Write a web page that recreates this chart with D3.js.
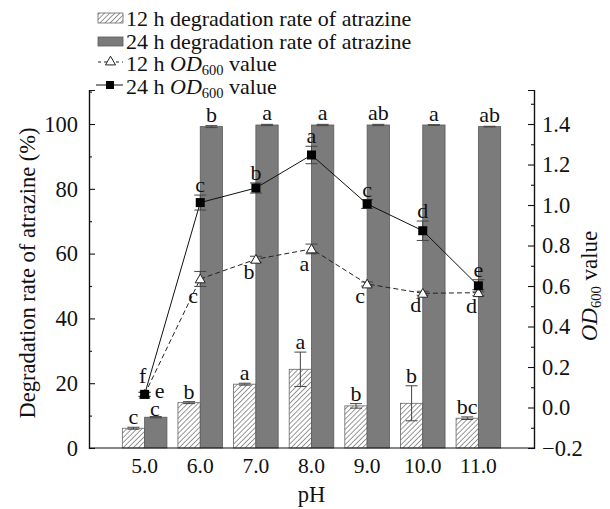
<!DOCTYPE html>
<html>
<head>
  <meta charset="utf-8">
  <script src="https://cdn.jsdelivr.net/npm/d3@7"></script>
  <style>
    body { margin: 0; background: #fff; }
  </style>
</head>
<body>
  <script>
    // Data
    const phValues = [5, 6, 7, 8, 9, 10, 11];
    const tickLabels = ["5.0", "6.0", "7.0", "8.0", "9.0", "10.0", "11.0"];
    const rate12 = [6.1, 14.0, 19.7, 24.3, 13.0, 13.8, 9.2];
    const rate12Err = [0.3, 0.3, 0.3, 5.3, 0.7, 5.4, 0.4];
    const rate24 = [9.5, 99.2, 99.7, 99.7, 99.7, 99.7, 99.2];
    const rate24Err = [0.2, 0.3, 0.2, 0.2, 0.2, 0.1, 0.1];
    const od12 = [0.065, 0.635, 0.732, 0.783, 0.61, 0.564, 0.567];
    const od12Err = [0.01, 0.037, 0.015, 0.024, 0.01, 0.01, 0.015];
    const od24 = [0.065, 1.012, 1.084, 1.247, 1.005, 0.873, 0.601];
    const od24Err = [0.01, 0.037, 0.025, 0.043, 0.022, 0.048, 0.03];
    const letters12 = ["c", "b", "a", "a", "b", "b", "bc"];
    const letters24 = ["c", "b", "a", "a", "ab", "a", "ab"];
    const lettersOd24 = ["f", "c", "b", "a", "c", "d", "e"];
    const lettersOd12 = ["e", "c", "b", "a", "c", "d", "d"];

    const W = 610, H = 509;
    const mLeft = 89, mRight = 534, mTop = 90, mBottom = 448;
    const FONT = "'Liberation Serif', 'Times New Roman', Times, 'DejaVu Serif', serif";

    const svg = d3.select("body").append("svg")
      .attr("width", W).attr("height", H)
      .style("font-family", FONT);

    const defs = svg.append("defs");
    const pat = defs.append("pattern")
      .attr("id", "hatch")
      .attr("patternUnits", "userSpaceOnUse")
      .attr("width", 3.6).attr("height", 3.6)
      .attr("patternTransform", "rotate(45)");
    pat.append("rect").attr("width", 3.6).attr("height", 3.6).attr("fill", "#fff");
    pat.append("line").attr("x1", 0).attr("y1", 0).attr("x2", 0).attr("y2", 3.6)
      .attr("stroke", "#444").attr("stroke-width", 1.1);

    const x = d3.scaleLinear().domain([4, 12]).range([mLeft, mRight]);
    const yL = d3.scaleLinear().domain([0, 110.5]).range([mBottom, mTop]);
    const yR = d3.scaleLinear().domain([-0.2, 1.568]).range([mBottom, mTop]);
    const barW = 22.3;

    // bars
    const g = svg.append("g");
    g.selectAll("rect.b12").data(phValues).enter().append("rect")
      .attr("x", d => x(d) - barW)
      .attr("y", (d, i) => yL(rate12[i]))
      .attr("width", barW)
      .attr("height", (d, i) => mBottom - yL(rate12[i]))
      .attr("fill", "url(#hatch)")
      .attr("stroke", "#666").attr("stroke-width", 0.8);

    g.selectAll("rect.b24").data(phValues).enter().append("rect")
      .attr("x", d => x(d))
      .attr("y", (d, i) => yL(rate24[i]))
      .attr("width", barW)
      .attr("height", (d, i) => mBottom - yL(rate24[i]))
      .attr("fill", "#7b7b7b")
      .attr("stroke", "#5a5a5a").attr("stroke-width", 0.8);

    // error bars helper
    function errBar(cx, yTop, yBot, cap) {
      const e = svg.append("g").attr("stroke", "#444").attr("stroke-width", 1);
      e.append("line").attr("x1", cx).attr("x2", cx).attr("y1", yTop).attr("y2", yBot);
      e.append("line").attr("x1", cx - cap).attr("x2", cx + cap).attr("y1", yTop).attr("y2", yTop);
      e.append("line").attr("x1", cx - cap).attr("x2", cx + cap).attr("y1", yBot).attr("y2", yBot);
    }

    phValues.forEach((d, i) => {
      errBar(x(d) - barW / 2, yL(rate12[i] + rate12Err[i]), yL(rate12[i] - rate12Err[i]), 6);
      errBar(x(d) + barW / 2, yL(rate24[i] + rate24Err[i]), yL(rate24[i] - rate24Err[i]), 6);
    });

    // lines
    const line12 = d3.line().x(d => x(d)).y((d, i) => yR(od12[i]));
    const line24 = d3.line().x(d => x(d)).y((d, i) => yR(od24[i]));
    svg.append("path").datum(phValues).attr("d", line12)
      .attr("fill", "none").attr("stroke", "#222").attr("stroke-width", 1)
      .attr("stroke-dasharray", "5,3");
    svg.append("path").datum(phValues).attr("d", line24)
      .attr("fill", "none").attr("stroke", "#111").attr("stroke-width", 1);

    phValues.forEach((d, i) => {
      errBar(x(d), yR(od12[i] + od12Err[i]), yR(od12[i] - od12Err[i]), 6);
      errBar(x(d), yR(od24[i] + od24Err[i]), yR(od24[i] - od24Err[i]), 6);
    });

    const tri = d3.symbol().type(d3.symbolTriangle).size(44);
    svg.selectAll("path.tri").data(phValues).enter().append("path")
      .attr("d", tri)
      .attr("transform", (d, i) => `translate(${x(d)},${yR(od12[i]) + 1})`)
      .attr("fill", "#fff").attr("stroke", "#222").attr("stroke-width", 1);

    svg.selectAll("rect.sq").data(phValues).enter().append("rect")
      .attr("x", d => x(d) - 4.5)
      .attr("y", (d, i) => yR(od24[i]) - 4.5)
      .attr("width", 9).attr("height", 9)
      .attr("fill", "#000");

    // letters
    const fs = 22;
    function letter(tx, ty, s) {
      svg.append("text").attr("x", tx).attr("y", ty).attr("text-anchor", "middle")
        .attr("font-size", fs).attr("fill", "#111").text(s);
    }
    phValues.forEach((d, i) => {
      const top12 = yL(rate12[i] + rate12Err[i]);
      const top24 = yL(rate24[i] + rate24Err[i]);
      letter(x(d) - barW / 2, top12 - 3, letters12[i]);
      letter(x(d) + barW / 2 - (i === 0 ? 1 : 0), top24 - (i === 0 ? 1 : 4), letters24[i]);
      if (i === 0) {
        letter(x(d) - 2, yR(od24[i]) - 11, lettersOd24[i]);
        letter(x(d) + 15, yR(od12[i]) + 4, lettersOd12[i]);
      } else {
        letter(x(d), yR(od24[i] + od24Err[i]) - 3, lettersOd24[i]);
        letter(x(d) - 7, yR(od12[i] - od12Err[i]) + 17, lettersOd12[i]);
      }
    });

    // axes
    const axL = d3.axisLeft(yL).tickValues(d3.range(0, 101, 20)).tickSize(-6).tickPadding(11);
    const axLminor = d3.axisLeft(yL).tickValues(d3.range(10, 111, 20)).tickSize(-3).tickFormat("");
    svg.append("g").attr("transform", `translate(${mLeft},0)`).call(axL);
    svg.append("g").attr("transform", `translate(${mLeft},0)`).call(axLminor);

    const axR = d3.axisRight(yR).tickValues(d3.range(-0.2, 1.41, 0.2)).tickSize(-6).tickPadding(8)
      .tickFormat(d => Math.abs(d) < 1e-9 ? "0.0" : (d < 0 ? "\u2212" + d3.format(".1f")(-d) : d3.format(".1f")(d)));
    const axRminor = d3.axisRight(yR).tickValues(d3.range(-0.1, 1.56, 0.2)).tickSize(-3).tickFormat("");
    svg.append("g").attr("transform", `translate(${mRight},0)`).call(axR);
    svg.append("g").attr("transform", `translate(${mRight},0)`).call(axRminor);

    svg.selectAll("g").attr("font-family", null);
    svg.selectAll(".domain").attr("stroke", "#111").attr("stroke-width", 1.2);
    svg.selectAll(".tick line").attr("stroke", "#111").attr("stroke-width", 1.1);
    svg.selectAll(".tick text").attr("font-size", 22.5).attr("fill", "#111");

    // x axis
    svg.append("line").attr("x1", mLeft).attr("x2", mRight).attr("y1", mBottom).attr("y2", mBottom)
      .attr("stroke", "#111").attr("stroke-width", 1.2);
    svg.selectAll("text.xt").data(phValues).enter().append("text")
      .attr("x", d => x(d)).attr("y", 473).attr("text-anchor", "middle")
      .attr("font-size", 21.5).attr("fill", "#111").text((d, i) => tickLabels[i]);

    svg.append("text").attr("x", x(8)).attr("y", 502).attr("text-anchor", "middle")
      .attr("font-size", 22.5).attr("fill", "#111").text("pH");

    svg.append("text").attr("transform", "translate(35,273) rotate(-90)")
      .attr("text-anchor", "middle").attr("font-size", 22.5).attr("fill", "#111")
      .text("Degradation rate of atrazine (%)");

    const rt = svg.append("text").attr("transform", "translate(597,286) rotate(-90)")
      .attr("text-anchor", "middle").attr("font-size", 23).attr("fill", "#111");
    rt.append("tspan").attr("font-style", "italic").text("OD");
    rt.append("tspan").attr("font-size", 14.5).attr("dy", 4).text("600");
    rt.append("tspan").attr("dy", -4).text(" value");

    // legend
    const legFs = 22;
    const lg = svg.append("g").attr("fill", "#111");
    lg.append("rect").attr("x", 98).attr("y", 13).attr("width", 25).attr("height", 10)
      .attr("fill", "url(#hatch)").attr("stroke", "#666").attr("stroke-width", 0.8);
    lg.append("text").attr("x", 126).attr("y", 26).attr("font-size", legFs)
      .text("12 h degradation rate of atrazine");
    lg.append("rect").attr("x", 98).attr("y", 37).attr("width", 25).attr("height", 9)
      .attr("fill", "#7b7b7b").attr("stroke", "#5a5a5a").attr("stroke-width", 0.8);
    lg.append("text").attr("x", 126).attr("y", 49).attr("font-size", legFs)
      .text("24 h degradation rate of atrazine");

    lg.append("line").attr("x1", 98).attr("x2", 123).attr("y1", 62).attr("y2", 62)
      .attr("stroke", "#222").attr("stroke-dasharray", "3,3");
    lg.append("path").attr("d", tri).attr("transform", "translate(110.5,62)")
      .attr("fill", "#fff").attr("stroke", "#222");
    const t3 = lg.append("text").attr("x", 126).attr("y", 71).attr("font-size", legFs);
    t3.append("tspan").text("12 h ");
    t3.append("tspan").attr("font-style", "italic").text("OD");
    t3.append("tspan").attr("font-size", 14.5).attr("dy", 4).text("600");
    t3.append("tspan").attr("dy", -4).text(" value");

    lg.append("line").attr("x1", 96).attr("x2", 123).attr("y1", 85).attr("y2", 85)
      .attr("stroke", "#111");
    lg.append("rect").attr("x", 106).attr("y", 81).attr("width", 8).attr("height", 8).attr("fill", "#000");
    const t4 = lg.append("text").attr("x", 126).attr("y", 94).attr("font-size", legFs);
    t4.append("tspan").text("24 h ");
    t4.append("tspan").attr("font-style", "italic").text("OD");
    t4.append("tspan").attr("font-size", 14.5).attr("dy", 4).text("600");
    t4.append("tspan").attr("dy", -4).text(" value");
  </script>
</body>
</html>
